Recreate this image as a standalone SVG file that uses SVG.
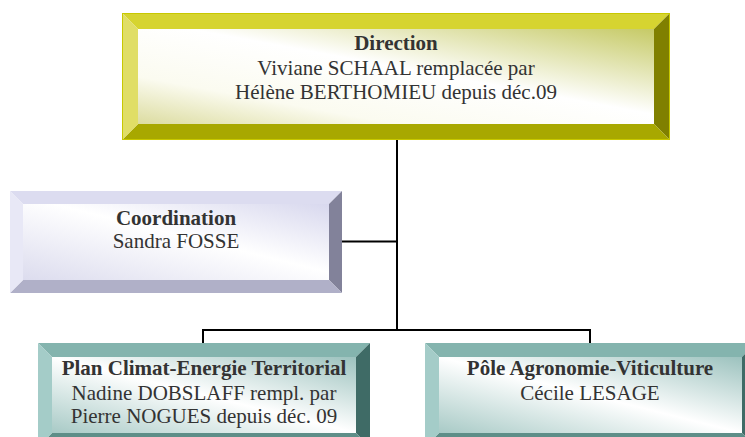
<svg xmlns="http://www.w3.org/2000/svg" width="745" height="437" viewBox="0 0 745 437">
<defs>
<style>
.t{font-family:"Liberation Serif","Times New Roman",serif;font-size:21px;fill:#333;text-anchor:middle}
.b{font-weight:bold}
.ln{stroke:#000;stroke-width:2;fill:none}
.yT{fill:#d6d430}.yL{fill:#e0de66}.yB{fill:#a8a800}.yR{fill:#808000}
.pT{fill:#dcdcf0}.pL{fill:#e8e8f6}.pB{fill:#b0b0c8}.pR{fill:#82829a}
.gT{fill:#84b4ae}.gL{fill:#a4ccc8}.gB{fill:#5e8e88}.gR{fill:#3f6b66}
</style>
<linearGradient id="gy" x1="1" y1="0" x2="0" y2="1">
<stop offset="0" stop-color="#c6ca66"/><stop offset="0.45" stop-color="#ffffff"/><stop offset="0.75" stop-color="#fbfbf0"/><stop offset="1" stop-color="#dcdca0"/>
</linearGradient>
<linearGradient id="gp" x1="1" y1="0" x2="0" y2="1">
<stop offset="0" stop-color="#d8d8ee"/><stop offset="0.45" stop-color="#ffffff"/><stop offset="1" stop-color="#dcdcee"/>
</linearGradient>
<linearGradient id="gg" x1="1" y1="0" x2="0" y2="1">
<stop offset="0" stop-color="#9cc2be"/><stop offset="0.5" stop-color="#ffffff"/><stop offset="1" stop-color="#a8cac6"/>
</linearGradient>
</defs>

<g id="connectors">
<path class="ln" d="M397 140 V330 M342 241.5 H397 M203 330 H590 M203 329 V343 M590 329 V343"/>
</g>

<g id="direction">
<rect x="138" y="29" width="516" height="95" fill="url(#gy)"/>
<polygon class="yT" points="122,13 670,13 654,29 138,29"/>
<polygon class="yR" points="670,13 670,140 654,124 654,29"/>
<polygon class="yB" points="122,140 670,140 654,124 138,124"/>
<polygon class="yL" points="122,13 122,140 138,124 138,29"/>
<rect x="122.5" y="13.5" width="547" height="126" fill="none" stroke="#c8c800" stroke-width="1"/>
<text class="t b" x="396" y="50">Direction</text>
<text class="t" x="396" y="74.5">Viviane SCHAAL remplacée par</text>
<text class="t" x="396" y="99">Hélène BERTHOMIEU depuis déc.09</text>
</g>

<g id="coordination">
<rect x="23" y="204" width="306" height="76" fill="url(#gp)"/>
<polygon class="pT" points="10,191 342,191 329,204 23,204"/>
<polygon class="pR" points="342,191 342,293 329,280 329,204"/>
<polygon class="pB" points="10,293 342,293 329,280 23,280"/>
<polygon class="pL" points="10,191 10,293 23,280 23,204"/>
<text class="t b" x="176" y="225">Coordination</text>
<text class="t" x="176" y="248">Sandra FOSSE</text>
</g>

<g id="plan-climat">
<rect x="52" y="357" width="304" height="76" fill="url(#gg)"/>
<polygon class="gT" points="38,343 370,343 356,357 52,357"/>
<polygon class="gR" points="370,343 370,447 356,433 356,357"/>
<polygon class="gB" points="38,447 370,447 356,433 52,433"/>
<polygon class="gL" points="38,343 38,447 52,433 52,357"/>
<text class="t b" x="204" y="375">Plan Climat-Energie Territorial</text>
<text class="t" x="204" y="400">Nadine DOBSLAFF rempl. par</text>
<text class="t" x="204" y="423">Pierre NOGUES depuis déc. 09</text>
</g>

<g id="pole-agronomie">
<rect x="439" y="357" width="303" height="76" fill="url(#gg)"/>
<polygon class="gT" points="425,343 756,343 742,357 439,357"/>
<polygon class="gR" points="756,343 756,447 742,433 742,357"/>
<polygon class="gB" points="425,447 756,447 742,433 439,433"/>
<polygon class="gL" points="425,343 425,447 439,433 439,357"/>
<text class="t b" x="590" y="375">Pôle Agronomie-Viticulture</text>
<text class="t" x="590" y="400">Cécile LESAGE</text>
</g>
</svg>
